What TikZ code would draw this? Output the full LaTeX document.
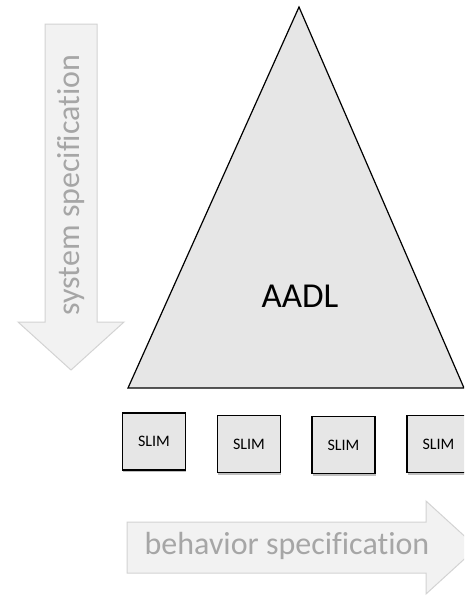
\documentclass[tikz,border=0pt]{standalone}
\usepackage{fontspec}
\setmainfont[Ligatures={NoCommon}]{Carlito}
\definecolor{arrowfill}{HTML}{F2F2F2}
\definecolor{arrowline}{HTML}{D3D3D3}
\definecolor{arrowtext}{HTML}{A6A6A6}
\definecolor{shapefill}{HTML}{E6E6E6}
\begin{document}
\begin{tikzpicture}[x=1pt,y=-1pt,
  flowarrow/.style={fill=arrowfill,draw=arrowline,line width=1pt,line join=miter},
  arrowlabel/.style={text=arrowtext,font=\fontsize{32}{36}\selectfont,inner sep=0pt},
  slimbox/.style={draw=black,fill=shapefill,line width=1.4pt,minimum width=63pt,minimum height=57pt,
    inner sep=0pt,font=\fontsize{16}{18}\selectfont},
  slimshadow/.style={fill=black!25}]
  \useasboundingbox (0,0) rectangle (464,597);
  \clip (0,0) rectangle (464,597);

  % downward arrow: system specification
  \draw[flowarrow] (45,24) -- (97,24) -- (97,322) -- (124,322) -- (71,370)
    -- (18,322) -- (45,322) -- cycle;
  \node[arrowlabel,rotate=90] (sysspec) at (71,185) {system specification};

  % the AADL triangle
  \draw[fill=shapefill,line width=1.2pt,line join=miter] (299,7) -- (464,388) -- (128,388) -- cycle;
  \node[font=\fontsize{35}{40}\selectfont,inner sep=0pt] (aadl) at (300,296) {AADL};

  % row of SLIM blocks, each with a faint shadow under its lower edge
  \foreach \i/\cx/\cy in {1/154/441.5, 2/249/444, 3/343.5/445, 4/438.5/444}{
    \fill[slimshadow] (\cx-31,\cy+27) rectangle (\cx+32,\cy+30.5);
    \node[slimbox] (slim\i) at (\cx,\cy) {SLIM};
  }

  % rightward arrow: behavior specification
  \draw[flowarrow] (127,522) -- (426,522) -- (426,501) -- (477,547.5) -- (426,594)
    -- (426,573) -- (127,573) -- cycle;
  \node[arrowlabel] (behspec) at (287,546) {behavior specification};
\end{tikzpicture}
\end{document}
